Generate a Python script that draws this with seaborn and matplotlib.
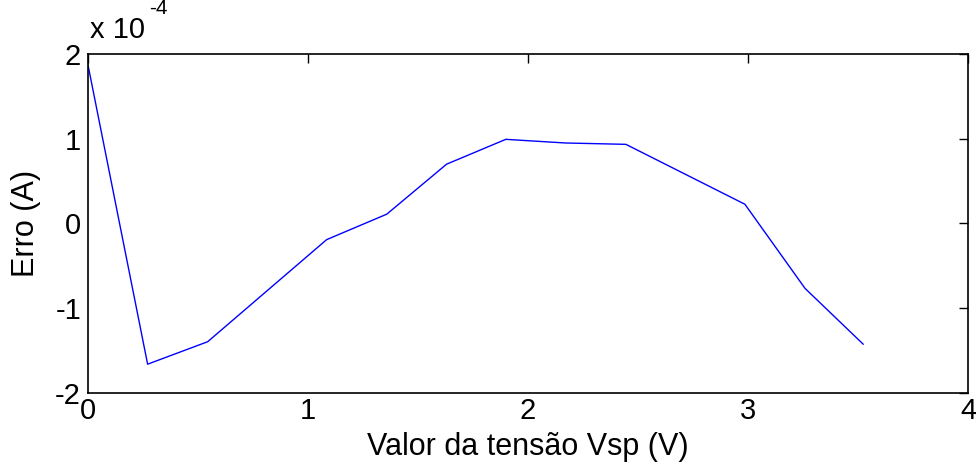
import matplotlib
matplotlib.use("Agg")
import matplotlib.pyplot as plt
import seaborn as sns
import pandas as pd
import numpy as np

# Data
vsp = [0.0, 0.271, 0.544, 1.085, 1.358, 1.630, 1.899, 2.170, 2.445, 2.986, 3.259, 3.524]
erro_e4 = [1.87, -1.66, -1.395, -0.19, 0.11, 0.70, 0.993, 0.95, 0.934, 0.227, -0.765, -1.425]
x_ticks = [0, 1, 2, 3, 4]
y_ticks = [-2, -1, 0, 1, 2]

df = pd.DataFrame({"Vsp": vsp, "Erro": erro_e4})

sns.set_style("white")
plt.rcParams['font.family'] = ['Liberation Sans', 'DejaVu Sans']
plt.rcParams['axes.unicode_minus'] = False
plt.rcParams['text.color'] = 'black'
plt.rcParams['axes.labelcolor'] = 'black'

fig = plt.figure(figsize=(9.76, 4.75), dpi=100)
ax = fig.add_axes([88/976, 1 - 393/475, 880/976, 339/475])

sns.lineplot(data=df, x="Vsp", y="Erro", ax=ax, color="#0000ff", linewidth=1.0,
             sort=False, estimator=None)

ax.set_xlim(0, 4)
ax.set_ylim(-2, 2)
ax.set_xticks(x_ticks)
ax.set_xticklabels([str(t) for t in x_ticks])
ax.set_yticks(y_ticks)
ax.set_yticklabels([str(t) for t in y_ticks])
ax.tick_params(direction="in", length=6.3, width=1, top=True, right=True,
               labelsize=21, colors="black")
ax.tick_params(axis="x", pad=3)
ax.tick_params(axis="y", pad=5)
for s in ax.spines.values():
    s.set_visible(True)
    s.set_color("black")
    s.set_linewidth(1.2)

ax.set_xlabel("Valor da tensão Vsp (V)", fontsize=22, labelpad=5, color="black")
ax.set_ylabel("Erro (A)", fontsize=22, labelpad=10, color="black")
ax.text(2/880, 1.03, "x 10", transform=ax.transAxes,
        fontsize=21, ha="left", va="bottom", color="black")
ax.text(61/880, 1.105, "-4", transform=ax.transAxes,
        fontsize=15, ha="left", va="bottom", color="black")

fig.savefig("out.png", dpi=100, facecolor="white")
